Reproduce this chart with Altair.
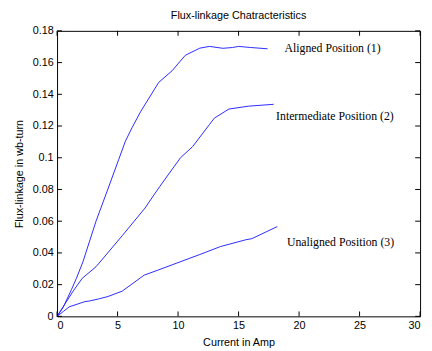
import altair as alt
import pandas as pd

# ---- data ----
aligned_x = [0, 0.5, 1.2, 1.6, 2.14, 3.22, 4.17, 5.1, 5.65, 6.2, 6.9, 8.4, 9.5, 10.6, 11.8, 12.6, 13.7, 14.5, 15.0, 16.0, 17.4]
aligned_y = [0, 0.0056, 0.017, 0.024, 0.0344, 0.060, 0.0796, 0.099, 0.1105, 0.119, 0.129, 0.1475, 0.1548, 0.1646, 0.1691, 0.1702, 0.1690, 0.1695, 0.1702, 0.1695, 0.1687]

inter_x = [0, 0.5, 1.33, 2.08, 3.22, 5.38, 7.27, 8.0, 8.5, 10.2, 11.2, 12.0, 12.6, 13.0, 14.2, 15.8, 17.9]
inter_y = [0, 0.006, 0.0159, 0.024, 0.0313, 0.0508, 0.0683, 0.0765, 0.082, 0.100, 0.107, 0.115, 0.121, 0.125, 0.1307, 0.1325, 0.1337]

unal_x = [0, 0.52, 1.0, 2.3, 2.68, 3.49, 4.2, 5.38, 7.2, 8.35, 11.8, 13.5, 15.6, 16.1, 18.2]
unal_y = [0, 0.0031, 0.006, 0.0093, 0.0097, 0.0111, 0.0125, 0.0159, 0.026, 0.0292, 0.039, 0.044, 0.0483, 0.049, 0.0566]

labels = ["Aligned Position (1)", "Intermediate Position (2)", "Unaligned Position (3)"]
label_x = [18.8, 18.1, 19.0]
label_y = [0.169, 0.126, 0.047]

x_ticks = [0, 5, 10, 15, 20, 25, 30]
y_ticks = [0, 0.02, 0.04, 0.06, 0.08, 0.1, 0.12, 0.14, 0.16, 0.18]

W, H = 370, 291
BLUE = "#2a2aff"
SANS = "Liberation Sans"

rows = []
for name, xs, ys in [("1", aligned_x, aligned_y), ("2", inter_x, inter_y), ("3", unal_x, unal_y)]:
    for i, (a, b) in enumerate(zip(xs, ys)):
        rows.append({"s": name, "i": i, "x": a, "y": b})
df = pd.DataFrame(rows)
lab_df = pd.DataFrame({"t": labels, "x": label_x, "y": label_y})
xt_df = pd.DataFrame({"t": x_ticks})
yt_df = pd.DataFrame({"t": y_ticks})

xs = alt.Scale(domain=[0, 30], nice=False)
ys = alt.Scale(domain=[0, 0.18], nice=False)

xaxis = alt.Axis(values=x_ticks, format="d", title="Current in Amp",
                 grid=False, ticks=False, domain=False, labelOverlap=False,
                 labelFont=SANS, labelFontSize=11, labelPadding=3,
                 titleFont=SANS, titleFontSize=11, titleFontWeight="normal",
                 titlePadding=7, labelColor="black", titleColor="black")
yaxis = alt.Axis(values=y_ticks, format="~g", title="Flux-linkage in wb-turn",
                 grid=False, ticks=False, domain=False, labelOverlap=False,
                 labelFont=SANS, labelFontSize=11, labelPadding=4,
                 titleFont=SANS, titleFontSize=11, titleFontWeight="normal",
                 titlePadding=8, labelColor="black", titleColor="black")

lines = alt.Chart(df).mark_line(color=BLUE, strokeWidth=1).encode(
    x=alt.X("x:Q", scale=xs, axis=xaxis),
    y=alt.Y("y:Q", scale=ys, axis=yaxis),
    detail="s:N",
    order="i:Q",
)

texts = alt.Chart(lab_df).mark_text(align="left", baseline="middle", font="Liberation Serif",
                                    fontSize=12, color="black").encode(
    x=alt.X("x:Q", scale=xs, axis=xaxis), y=alt.Y("y:Q", scale=ys, axis=yaxis), text="t:N")

tl = 5
bot = alt.Chart(xt_df).mark_rule(color="black", strokeWidth=1).encode(
    x=alt.X("t:Q", scale=xs, axis=xaxis), y=alt.value(H), y2=alt.value(H - tl))
top = alt.Chart(xt_df).mark_rule(color="black", strokeWidth=1).encode(
    x=alt.X("t:Q", scale=xs, axis=xaxis), y=alt.value(0), y2=alt.value(tl))
left = alt.Chart(yt_df).mark_rule(color="black", strokeWidth=1).encode(
    y=alt.Y("t:Q", scale=ys, axis=yaxis), x=alt.value(0), x2=alt.value(tl))
right = alt.Chart(yt_df).mark_rule(color="black", strokeWidth=1).encode(
    y=alt.Y("t:Q", scale=ys, axis=yaxis), x=alt.value(W), x2=alt.value(W - tl))

chart = alt.layer(lines, texts, bot, top, left, right).properties(
    width=W, height=H,
    title=alt.TitleParams("Flux-linkage Chatracteristics", font=SANS, fontSize=11,
                          fontWeight="normal", color="black", offset=4),
    autosize=alt.AutoSizeParams(type="none"),
    padding={"left": 50, "top": 20, "right": 4, "bottom": 32},
    background="white",
).configure_view(stroke="black", strokeWidth=1)

chart.save("out.html", embed_options={"renderer": "svg", "actions": False})
